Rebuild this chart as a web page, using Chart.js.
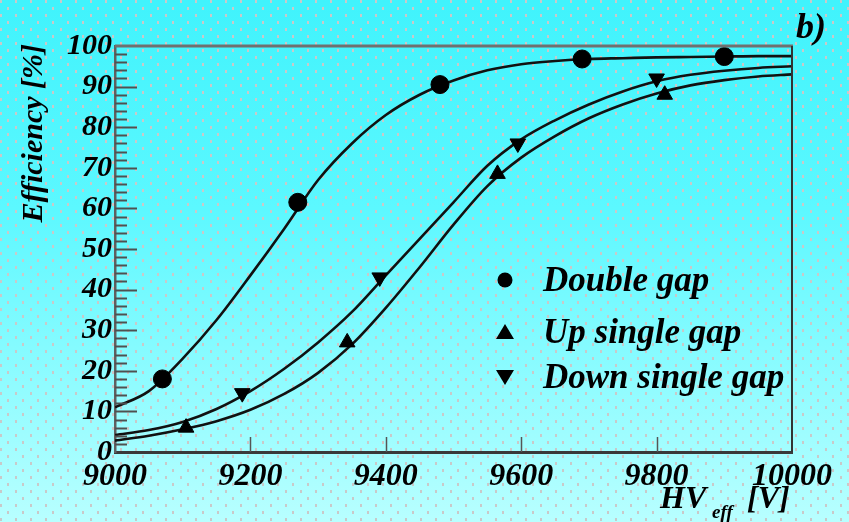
<!DOCTYPE html>
<html><head><meta charset="utf-8">
<script src="https://cdn.jsdelivr.net/npm/chart.js@4.4.0/dist/chart.umd.min.js"></script>
<style>
html,body{margin:0;padding:0;}
body{width:849px;height:522px;overflow:hidden;position:relative;
background-color:#44f4fc;
background-image:
 conic-gradient(at 2px 3px, transparent 75%, #c9c9c9 0),
 conic-gradient(at 2px 3px, transparent 75%, #c9c9c9 0),
 linear-gradient(#40f3fc, #5cf8ff 40%, #b8ffff);
background-size:15px 14px, 15px 14px, 100% 100%;
background-position:0 0, 7px 7px, 0 0;
}
canvas{position:absolute;left:0;top:0;}
</style></head>
<body>
<canvas id="c" width="849" height="522"></canvas>
<script>
// ---- data ----
const hvTicks = [9000, 9200, 9400, 9600, 9800, 10000];
const effTicks = [0, 10, 20, 30, 40, 50, 60, 70, 80, 90, 100];

const doubleGapV = [9070, 9270, 9480, 9690, 9900];
const doubleGapE = [18, 61.5, 90.5, 96.8, 97.4];
const upGapV = [9105, 9343, 9565, 9812];
const upGapE = [6, 27, 68.5, 88];
const downGapV = [9188, 9391, 9595, 9800];
const downGapE = [14.5, 43, 76, 92];

// fitted curves
const fitV = [9000, 9050, 9100, 9150, 9200, 9250, 9300, 9350, 9400, 9450, 9500,
              9550, 9600, 9650, 9700, 9750, 9800, 9850, 9900, 9950, 10000];
const doubleFitE = [11, 15, 23, 32.5, 43.5, 55, 67, 76, 83, 88, 91.5,
                    94, 95.5, 96.3, 96.8, 97.0, 97.2, 97.3, 97.4, 97.5, 97.5];
const upFitE = [2.8, 4.0, 5.6, 7.6, 10.4, 14.3, 19.5, 26.5, 35.5, 45.5, 56,
                65.5, 72.5, 77.8, 82.2, 85.6, 88.3, 90.3, 91.6, 92.5, 93];
const downFitE = [4.2, 5.4, 7.4, 10.6, 15, 20.5, 27, 34.5, 43.5, 52.5, 61.5,
                  70.5, 77, 81.7, 85.6, 88.8, 91.3, 92.9, 93.9, 94.6, 95];

const legendLabels = ['Double gap', 'Up single gap', 'Down single gap'];
const yTitle = 'Efficiency [%]';
const panelTag = 'b)';

const FONT = '"Liberation Serif", "DejaVu Serif", serif';
const pts = (xs, ys) => xs.map((x, i) => ({x: x, y: ys[i]}));

const markerDs = (label, xs, ys, style, rot, r) => ({
  label: label, data: pts(xs, ys), showLine: false,
  pointStyle: style, rotation: rot, pointRadius: r, pointHoverRadius: r,
  backgroundColor: '#000', borderColor: '#000', borderWidth: 1, order: 0
});
const fitDs = (ys) => ({
  label: 'fit', data: pts(fitV, ys), showLine: true, pointRadius: 0,
  borderColor: '#111', borderWidth: 2.6, cubicInterpolationMode: 'monotone',
  fill: false, order: 1
});

const framePlugin = {
  id: 'frame',
  afterDraw(chart) {
    const ctx = chart.ctx, a = chart.chartArea;
    const xs = chart.scales.x, ys = chart.scales.y;
    ctx.save();
    // inner ticks on the y axis
    ctx.strokeStyle = '#505050'; ctx.lineWidth = 2;
    for (let v = 2; v < 100; v += 2) {
      const y = Math.round(ys.getPixelForValue(v)) + 0.5;
      const len = (v % 10 === 0) ? 22 : 12;
      ctx.beginPath(); ctx.moveTo(a.left, y); ctx.lineTo(a.left + len, y); ctx.stroke();
    }
    // inner ticks on the x axis
    ctx.strokeStyle = '#555'; ctx.lineWidth = 1.5;
    hvTicks.forEach(v => {
      if (v === 9000 || v === 10000) return;
      const x = Math.round(xs.getPixelForValue(v)) + 0.5;
      ctx.beginPath(); ctx.moveTo(x, a.bottom); ctx.lineTo(x, a.bottom - 15); ctx.stroke();
    });
    // top and right frame
    ctx.strokeStyle = '#707070'; ctx.lineWidth = 3;
    ctx.beginPath(); ctx.moveTo(a.left, a.top); ctx.lineTo(a.right + 1, a.top); ctx.stroke();
    ctx.strokeStyle = '#333'; ctx.lineWidth = 2;
    ctx.beginPath(); ctx.moveTo(a.right, a.top); ctx.lineTo(a.right, a.bottom); ctx.stroke();

    ctx.fillStyle = '#000';
    // legend
    const lx = 505, tx = 543, rows = [280, 332, 377];
    ctx.font = 'italic bold 35px ' + FONT;
    ctx.textBaseline = 'middle'; ctx.textAlign = 'left';
    rows.forEach((y, i) => {
      ctx.beginPath();
      if (i === 0) { ctx.arc(lx, y, 7.5, 0, Math.PI * 2); }
      else if (i === 1) { ctx.moveTo(lx, y - 8); ctx.lineTo(lx + 9, y + 7); ctx.lineTo(lx - 9, y + 7); ctx.closePath(); }
      else { ctx.moveTo(lx, y + 8); ctx.lineTo(lx + 9, y - 7); ctx.lineTo(lx - 9, y - 7); ctx.closePath(); }
      ctx.fill();
      ctx.fillText(legendLabels[i], tx, y + 2);
    });
    // y title
    ctx.save();
    ctx.translate(34, 44); ctx.rotate(-Math.PI / 2);
    ctx.font = 'italic bold 30px ' + FONT; ctx.textAlign = 'right'; ctx.textBaseline = 'middle';
    ctx.fillText(yTitle, 0, 0);
    ctx.restore();
    // x title HV_eff [V]
    ctx.textAlign = 'left'; ctx.textBaseline = 'alphabetic';
    ctx.font = 'italic bold 32px ' + FONT;
    ctx.fillText('HV', 660, 508);
    ctx.font = 'italic bold 19px ' + FONT;
    ctx.fillText('eff', 712, 518);
    ctx.font = 'italic bold 32px ' + FONT;
    ctx.fillText('[V]', 747, 508);
    // panel tag
    ctx.font = 'italic bold 36px ' + FONT;
    ctx.fillText(panelTag, 796, 38);
    ctx.restore();
  }
};

new Chart(document.getElementById('c'), {
  type: 'scatter',
  data: {
    datasets: [
      markerDs(legendLabels[0], doubleGapV, doubleGapE, 'circle', 0, 9),
      markerDs(legendLabels[1], upGapV, upGapE, 'triangle', 0, 9),
      markerDs(legendLabels[2], downGapV, downGapE, 'triangle', 180, 9),
      fitDs(doubleFitE), fitDs(upFitE), fitDs(downFitE)
    ]
  },
  options: {
    responsive: false, animation: false, devicePixelRatio: 1,
    layout: {padding: {top: 46, right: 57, left: 0, bottom: 0}},
    plugins: {legend: {display: false}, tooltip: {enabled: false}, title: {display: false}},
    scales: {
      x: {
        type: 'linear', min: 9000, max: 10000,
        afterFit(s) { s.height = 70; },
        afterBuildTicks(s) { s.ticks = hvTicks.map(v => ({value: v})); },
        grid: {display: false, drawTicks: false},
        border: {display: true, color: '#3a3a3a', width: 3},
        ticks: {color: '#000', padding: 6, maxRotation: 0, autoSkip: false,
          font: {family: FONT, size: 32, style: 'italic', weight: 'bold'},
          callback: v => String(v)}
      },
      y: {
        type: 'linear', min: 0, max: 100,
        afterFit(s) { s.width = 115; },
        afterBuildTicks(s) { s.ticks = effTicks.map(v => ({value: v})); },
        grid: {display: false, drawTicks: false},
        border: {display: true, color: '#606060', width: 2.5},
        ticks: {color: '#000', padding: 3, autoSkip: false,
          font: {family: FONT, size: 30, style: 'italic', weight: 'bold'},
          callback: v => String(v)}
      }
    }
  },
  plugins: [framePlugin]
});
</script>
</body></html>
